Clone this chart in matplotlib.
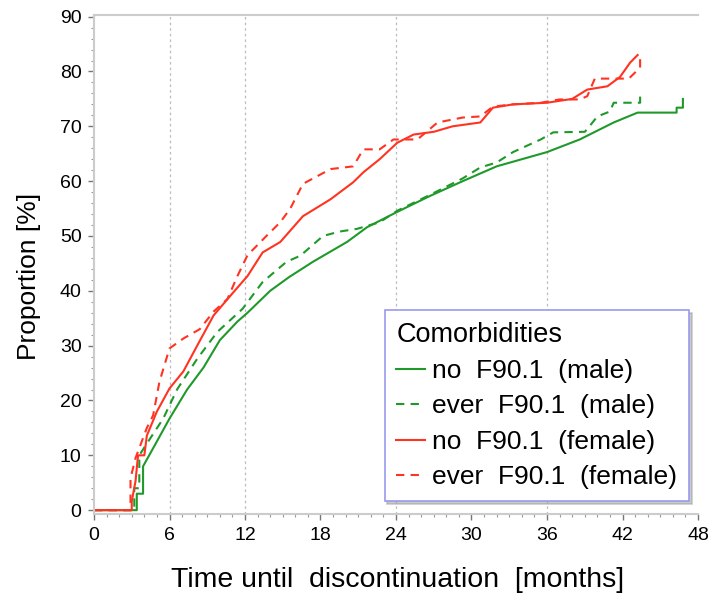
import matplotlib
matplotlib.use("Agg")
import matplotlib.pyplot as plt
from matplotlib.ticker import MultipleLocator

plt.rcParams['font.family'] = ['Liberation Sans', 'DejaVu Sans']

# Cumulative proportion of discontinuation (%) over time (months)
t_no_male = [0, 3.4, 3.4, 3.9, 3.9, 4.7, 6.0, 7.4, 8.7, 10.0, 11.4, 12.2, 14.0, 15.5, 17.4,
             20.1, 21.7, 24.1, 26.7, 29.3, 32.0, 34.0, 36.0, 38.6, 41.3, 43.2, 46.3, 46.3,
             46.8, 46.8]
p_no_male = [0, 0, 3.0, 3.0, 8.0, 11.3, 16.7, 22.0, 26.0, 31.0, 34.4, 36.0, 40.0, 42.5, 45.3,
             48.9, 51.6, 54.4, 57.3, 60.0, 62.7, 64.0, 65.3, 67.6, 70.7, 72.5, 72.5, 73.4,
             73.4, 75.0]

t_ever_male = [0, 3.2, 3.2, 3.6, 3.6, 4.3, 5.5, 6.6, 8.2, 9.8, 11.8, 13.4, 15.3, 16.4, 18.2,
               19.5, 20.9, 22.7, 24.1, 26.7, 29.3, 30.7, 32.0, 33.3, 35.5, 36.5, 39.0, 39.2,
               40.0, 41.0, 41.3, 43.4, 43.4]
p_ever_male = [0, 0, 4.0, 4.0, 10.0, 12.5, 16.7, 22.0, 27.6, 32.5, 36.7, 41.6, 45.3, 46.4, 50.0,
               50.8, 51.3, 52.5, 54.6, 57.5, 60.5, 62.5, 63.4, 65.3, 67.6, 68.9, 69.0, 69.5,
               71.8, 72.7, 74.3, 74.3, 76.2]

t_no_female = [0, 3.0, 3.0, 3.3, 3.5, 4.0, 4.2, 5.0, 6.0, 7.1, 8.2, 9.5, 10.8, 12.2, 13.4,
               14.8, 16.6, 18.8, 20.6, 21.4, 22.7, 24.1, 25.4, 27.0, 28.5, 30.7, 31.7, 33.3,
               36.0, 38.0, 39.2, 40.8, 41.8, 42.6, 43.2]
p_no_female = [0, 0, 1.6, 5.3, 10.0, 10.0, 13.6, 18.0, 22.2, 25.3, 30.0, 35.5, 39.0, 42.7, 47.0,
               48.9, 53.6, 56.7, 59.8, 61.6, 64.0, 67.0, 68.5, 69.0, 70.0, 70.7, 73.4, 74.0,
               74.3, 75.0, 76.7, 77.3, 79.0, 81.6, 83.0]

t_ever_female = [0, 2.9, 2.9, 3.3, 4.2, 4.7, 5.2, 6.0, 7.1, 8.4, 9.5, 10.6, 11.4, 12.2, 13.7,
                 14.8, 15.6, 16.6, 18.8, 20.6, 21.4, 22.7, 23.8, 25.7, 27.3, 29.3, 30.7, 31.7,
                 33.3, 35.5, 37.0, 38.6, 39.2, 39.8, 42.5, 43.4, 43.4]
p_ever_female = [0, 0, 5.8, 9.5, 15.0, 17.3, 23.4, 29.5, 31.3, 33.0, 36.2, 38.5, 42.7, 46.5, 50.0,
                 52.5, 55.0, 59.5, 62.2, 62.7, 65.8, 65.8, 67.6, 67.6, 70.7, 71.6, 71.8, 73.6,
                 74.0, 74.3, 74.9, 74.9, 75.5, 78.7, 78.7, 80.7, 83.0]

labels = ["no  F90.1  (male)", "ever  F90.1  (male)",
          "no  F90.1  (female)", "ever  F90.1  (female)"]
x_ticks = [0, 6, 12, 18, 24, 30, 36, 42, 48]
y_ticks = [0, 10, 20, 30, 40, 50, 60, 70, 80, 90]
grid_months = [6, 12, 24, 36]

GREEN = '#1f9a2a'
RED = '#ff3322'

fig = plt.figure(figsize=(7.12, 6.01), dpi=100)
ax = fig.add_axes([94 / 712, 1 - 514 / 601, 604 / 712, 499 / 601])

for g in grid_months:
    ax.axvline(g, color='#bbbbbb', lw=0.9, ls=(0, (2, 2.5)), zorder=0)

lw = 1.5
ax.plot(t_no_male, p_no_male, color=GREEN, lw=lw, label=labels[0])
ax.plot(t_ever_male, p_ever_male, color=GREEN, lw=lw, ls=(0, (4, 3)), label=labels[1])
ax.plot(t_no_female, p_no_female, color=RED, lw=lw, label=labels[2])
ax.plot(t_ever_female, p_ever_female, color=RED, lw=lw, ls=(0, (4, 3)), label=labels[3])

ax.set_xlim(0, 48)
ax.set_ylim(-0.7, 90.3)
ax.set_xticks(x_ticks)
ax.set_yticks(y_ticks)
ax.xaxis.set_minor_locator(MultipleLocator(1))
ax.yaxis.set_minor_locator(MultipleLocator(2))
ax.tick_params(which='major', length=4, width=1, color='#777777', labelsize=14, pad=5)
ax.tick_params(which='minor', length=2.5, width=0.8, color='#999999')

for side in ['left', 'bottom', 'top', 'right']:
    ax.spines[side].set_color('#cccccc')
    ax.spines[side].set_linewidth(1.5)
ax.spines['right'].set_visible(False)

ax.set_xlabel("Time until  discontinuation  [months]", fontsize=20.5)
ax.set_ylabel("Proportion [%]", fontsize=19)
ax.xaxis.set_label_coords(0.503, -0.106)
ax.yaxis.set_label_coords(-0.088, 0.476)

leg = ax.legend(loc='lower right', bbox_to_anchor=(0.985, 0.026), fontsize=19,
                title="Comorbidities", title_fontsize=19.5, alignment='left',
                frameon=True, fancybox=False, shadow={'color': '#999999'},
                edgecolor='#9999ee', handlelength=1.1, handletextpad=0.25,
                labelspacing=0.43, borderpad=0.45, borderaxespad=0)
leg.get_frame().set_linewidth(1.2)

fig.savefig("out.png", dpi=100)
